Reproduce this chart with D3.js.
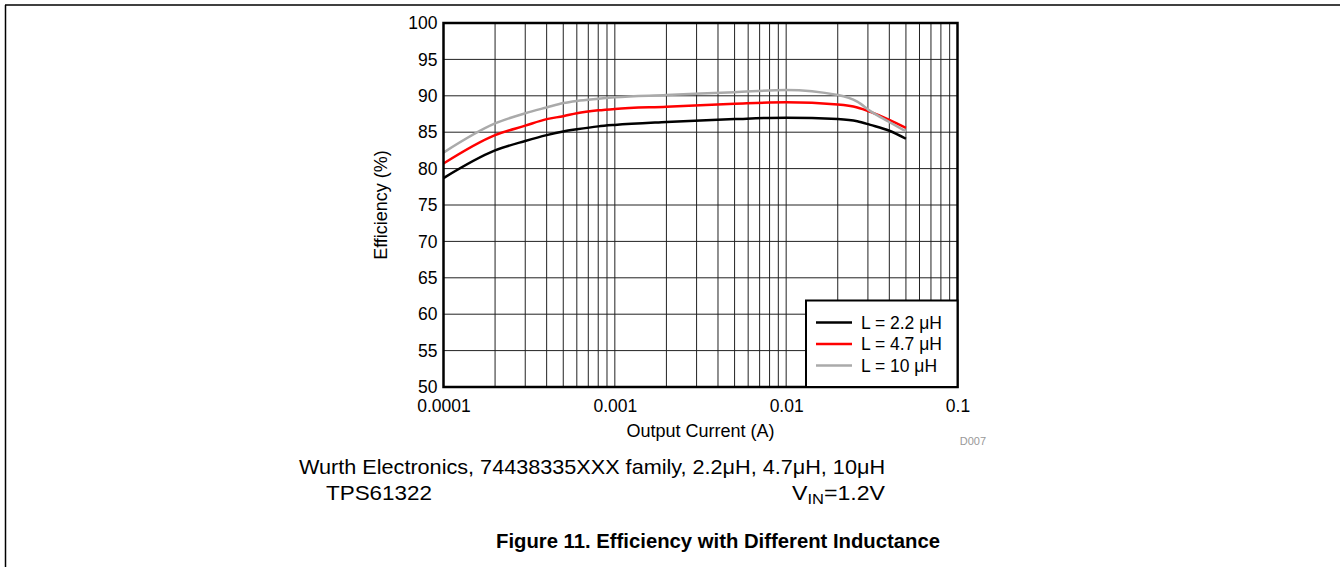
<!DOCTYPE html>
<html>
<head>
<meta charset="utf-8">
<script src="https://cdn.jsdelivr.net/npm/d3@7"></script>
<style>
  body { margin: 0; background: #fff; }
  svg { display: block; font-family: "Liberation Sans", Arial, sans-serif; }
</style>
</head>
<body>
<svg id="chart" width="1340" height="567"></svg>
<script>
// ---- data ----
var currents = [0.0001, 0.0002, 0.0003, 0.0004, 0.0005, 0.0006, 0.0008, 0.001, 0.002, 0.005, 0.01, 0.02, 0.026, 0.031, 0.04, 0.05];
var eff22 = [78.7, 82.5, 83.8, 84.6, 85.1, 85.4, 85.8, 86.0, 86.4, 86.8, 87.0, 86.8, 86.5, 86.0, 85.2, 84.1];
var eff47 = [80.7, 84.6, 85.9, 86.8, 87.2, 87.6, 88.0, 88.2, 88.5, 88.9, 89.1, 88.8, 88.4, 87.8, 86.7, 85.6];
var eff10 = [82.2, 86.2, 87.6, 88.4, 89.0, 89.3, 89.6, 89.8, 90.1, 90.5, 90.8, 90.1, 89.2, 87.9, 86.4, 85.1];

var seriesNames = ["L = 2.2 \u03BCH", "L = 4.7 \u03BCH", "L = 10 \u03BCH"];
var seriesColors = ["#000000", "#ff0000", "#aaaaaa"];
var seriesValues = [eff22, eff47, eff10];

var xTicks = [0.0001, 0.001, 0.01, 0.1];
var xTickLabels = ["0.0001", "0.001", "0.01", "0.1"];
var yTicks = [50, 55, 60, 65, 70, 75, 80, 85, 90, 95, 100];

// ---- layout ----  (note: "top" is taken by window.top, so prefixed names)
var plotL = 443.5, plotR = 957.5, plotT = 23, plotB = 387;
var svg = d3.select("#chart");

var x = d3.scaleLog().domain([0.0001, 0.1]).range([plotL, plotR]);
var y = d3.scaleLinear().domain([50, 100]).range([plotB, plotT]);

// page frame
svg.append("line").attr("x1", 5).attr("x2", 1340).attr("y1", 5).attr("y2", 5)
  .attr("stroke", "#000").attr("stroke-width", 1.5);
svg.append("line").attr("x1", 5.5).attr("x2", 5.5).attr("y1", 5).attr("y2", 567)
  .attr("stroke", "#000").attr("stroke-width", 1.5);

// grid - every 1..9 in each decade
var minor = [];
[0.0001, 0.001, 0.01].forEach(function(d) {
  for (var k = 1; k <= 9; k++) minor.push(d * k);
});
svg.append("g").selectAll("line").data(minor).enter().append("line")
  .attr("x1", function(d) { return x(d); })
  .attr("x2", function(d) { return x(d); })
  .attr("y1", plotT).attr("y2", plotB)
  .attr("stroke", "#222").attr("stroke-width", 1);

svg.append("g").selectAll("line").data(yTicks).enter().append("line")
  .attr("x1", plotL).attr("x2", plotR)
  .attr("y1", function(d) { return y(d); })
  .attr("y2", function(d) { return y(d); })
  .attr("stroke", "#222").attr("stroke-width", 1);

// axes (labels only, border drawn separately)
var yAxis = d3.axisLeft(y).tickValues(yTicks).tickSize(0).tickPadding(6);
var gy = svg.append("g").attr("transform", "translate(" + plotL + ",0)").call(yAxis);
gy.select(".domain").remove();
gy.selectAll("text").attr("font-size", 17.5).attr("fill", "#000")
  .attr("font-family", "Liberation Sans, Arial, sans-serif");

var xAxis = d3.axisBottom(x).tickValues(xTicks).tickSize(0).tickPadding(13)
  .tickFormat(function(d, i) { return xTickLabels[i]; });
var gx = svg.append("g").attr("transform", "translate(0," + plotB + ")").call(xAxis);
gx.select(".domain").remove();
gx.selectAll("text").attr("font-size", 17.5).attr("fill", "#000")
  .attr("font-family", "Liberation Sans, Arial, sans-serif");

// curves
var line = d3.line()
  .x(function(d) { return x(d[0]); })
  .y(function(d) { return y(d[1]); })
  .curve(d3.curveMonotoneX);

seriesValues.forEach(function(vals, i) {
  svg.append("path")
    .datum(currents.map(function(c, j) { return [c, vals[j]]; }))
    .attr("d", line)
    .attr("fill", "none")
    .attr("stroke", seriesColors[i])
    .attr("stroke-width", 2.5);
});

// plot border
svg.append("rect").attr("x", plotL).attr("y", plotT)
  .attr("width", plotR - plotL).attr("height", plotB - plotT)
  .attr("fill", "none").attr("stroke", "#000").attr("stroke-width", 2.5);

// legend
var lg = svg.append("g");
lg.append("rect").attr("x", 806).attr("y", 300.5).attr("width", plotR - 806).attr("height", plotB - 300.5)
  .attr("fill", "#fff").attr("stroke", "#000").attr("stroke-width", 2);
seriesNames.forEach(function(name, i) {
  var yy = 322.5 + i * 21.5;
  lg.append("line").attr("x1", 816).attr("x2", 852).attr("y1", yy).attr("y2", yy)
    .attr("stroke", seriesColors[i]).attr("stroke-width", 2.5);
  lg.append("text").attr("x", 861).attr("y", yy + 6)
    .attr("font-size", 17.5).text(name);
});

// axis titles
svg.append("text").attr("x", (plotL + plotR) / 2).attr("y", 437)
  .attr("text-anchor", "middle").attr("font-size", 18).text("Output Current (A)");
svg.append("text")
  .attr("transform", "translate(387," + ((plotT + plotB) / 2) + ") rotate(-90)")
  .attr("text-anchor", "middle").attr("font-size", 18).text("Efficiency (%)");

svg.append("text").attr("x", 986).attr("y", 445).attr("text-anchor", "end")
  .attr("font-size", 11).attr("fill", "#999").text("D007");

// notes under the chart
var narrow = "Liberation Sans Narrow, Arial Narrow, Liberation Sans, sans-serif";
svg.append("text").attr("x", 299).attr("y", 474)
  .attr("font-family", narrow).attr("font-size", 21)
  .attr("textLength", 586).attr("lengthAdjust", "spacingAndGlyphs")
  .text("Wurth Electronics, 74438335XXX family, 2.2\u03BCH, 4.7\u03BCH, 10\u03BCH");
svg.append("text").attr("x", 326).attr("y", 500)
  .attr("font-family", narrow).attr("font-size", 21)
  .attr("textLength", 106).attr("lengthAdjust", "spacingAndGlyphs")
  .text("TPS61322");
var vin = svg.append("text").attr("x", 885).attr("y", 500).attr("text-anchor", "end")
  .attr("font-family", narrow).attr("font-size", 21)
  .attr("textLength", 93).attr("lengthAdjust", "spacingAndGlyphs");
vin.append("tspan").text("V");
vin.append("tspan").attr("font-size", 15).attr("dy", 4).text("IN");
vin.append("tspan").attr("dy", -4).text("=1.2V");

svg.append("text").attr("x", 496).attr("y", 548)
  .attr("font-family", narrow).attr("font-size", 20).attr("font-weight", "bold")
  .attr("textLength", 444).attr("lengthAdjust", "spacingAndGlyphs")
  .text("Figure 11. Efficiency with Different Inductance");
</script>
</body>
</html>
